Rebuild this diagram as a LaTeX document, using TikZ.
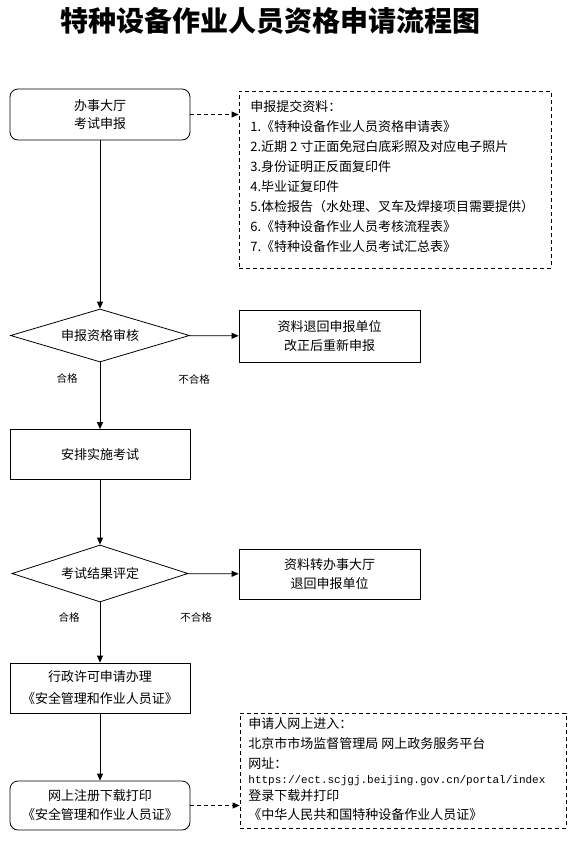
\documentclass[tikz,border=0pt]{standalone}
\usepackage{fontspec}
\setmainfont{Noto Sans CJK SC}
\newfontfamily\urlfont{Liberation Mono}
\usetikzlibrary{arrows.meta,positioning,shapes.geometric}

\begin{document}
\begin{tikzpicture}[x=1pt, y=-1pt, line width=0.8pt,
  every node/.style={font=\fontsize{13}{19}\selectfont, inner sep=0pt},
  box/.style={draw, minimum width=180pt, minimum height=50pt, align=center},
  roundbox/.style={box, rounded corners=8pt},
  decision/.style={draw, diamond, aspect=3.3},
  notebox/.style={draw, dash pattern=on 4pt off 3pt, line width=0.7pt},
  notetext/.style={anchor=north west, align=left, font=\fontsize{13}{20}\selectfont},
  branch/.style={font=\fontsize{10.5}{12}\selectfont},
  flow/.style={-{Triangle[length=7pt, width=6pt]}},
  dashflow/.style={flow, dash pattern=on 4pt off 3pt}]
  \useasboundingbox (0,0) rectangle (579,841);
  % title
  \node (title) at (270,21) {\fontsize{28}{30}\selectfont\bfseries 特种设备作业人员资格申请流程图};
  % main column
  \node[roundbox, minimum height=51pt] (hall) at (100,114.5) {办事大厅\\[-1pt]考试申报};
  \node[decision, minimum width=179pt, minimum height=53pt] (check) at (100,335.5) {申报资格审核};
  \node[box] (exam) at (100,454.5) {安排实施考试};
  \node[decision, minimum width=176pt, minimum height=57pt] (assess) at (100,573.5) {考试结果评定};
  \node[box] (permit) at (100,688) {行政许可申请办理\\[3pt]《安全管理和作业人员证》};
  \node[roundbox, minimum height=49pt] (download) at (100,805.5) {网上注册下载打印\\《安全管理和作业人员证》};
  % side boxes
  \node[box, minimum width=181pt, minimum height=52pt] (returnA) at (329.5,336) {资料退回申报单位\\改正后重新申报};
  \node[box, minimum width=181pt] (returnB) at (329.5,574) {资料转办事大厅\\退回申报单位};
  % notes
  \node[notebox, minimum width=312pt, minimum height=177pt] (materials) at (395,179.5) {};
  \node[notetext] (materialslist) at (250,100) {申报提交资料：\\
    1.《特种设备作业人员资格申请表》\\
    2.近期 2 寸正面免冠白底彩照及对应电子照片\\
    3.身份证明正反面复印件\\
    4.毕业证复印件\\
    5.体检报告（水处理、叉车及焊接项目需要提供）\\
    6.《特种设备作业人员考核流程表》\\
    7.《特种设备作业人员考试汇总表》};
  \node[notebox, minimum width=326pt, minimum height=115pt] (portal) at (403,770.5) {};
  \node[notetext] (portallist) at (248,717) {申请人网上进入：\\
    北京市市场监督管理局 网上政务服务平台\\
    网址：\\[-5pt]
    {\urlfont\fontsize{11}{12}\selectfont https://ect.scjgj.beijing.gov.cn/portal/index}\\[-3pt]
    登录下载并打印\\[-1pt]
    《中华人民共和国特种设备作业人员证》};
  % branch labels
  \node[branch] (passA) at (67,378) {合格};
  \node[branch] (failA) at (194,379) {不合格};
  \node[branch] (passB) at (69,617) {合格};
  \node[branch] (failB) at (196,617) {不合格};
  % connectors
  \draw[flow] (hall) -- (check);
  \draw[flow] (check) -- (exam);
  \draw[flow] (exam) -- (assess);
  \draw[flow] (assess) -- (permit);
  \draw[flow] (permit) -- (download);
  \draw[flow] (check) -- (returnA);
  \draw[flow] (assess) -- (returnB);
  \draw[dashflow] (hall.east) -- (hall.east -| materials.west);
  \draw[dashflow] (download.east) -- (download.east -| portal.west);
\end{tikzpicture}
\end{document}
